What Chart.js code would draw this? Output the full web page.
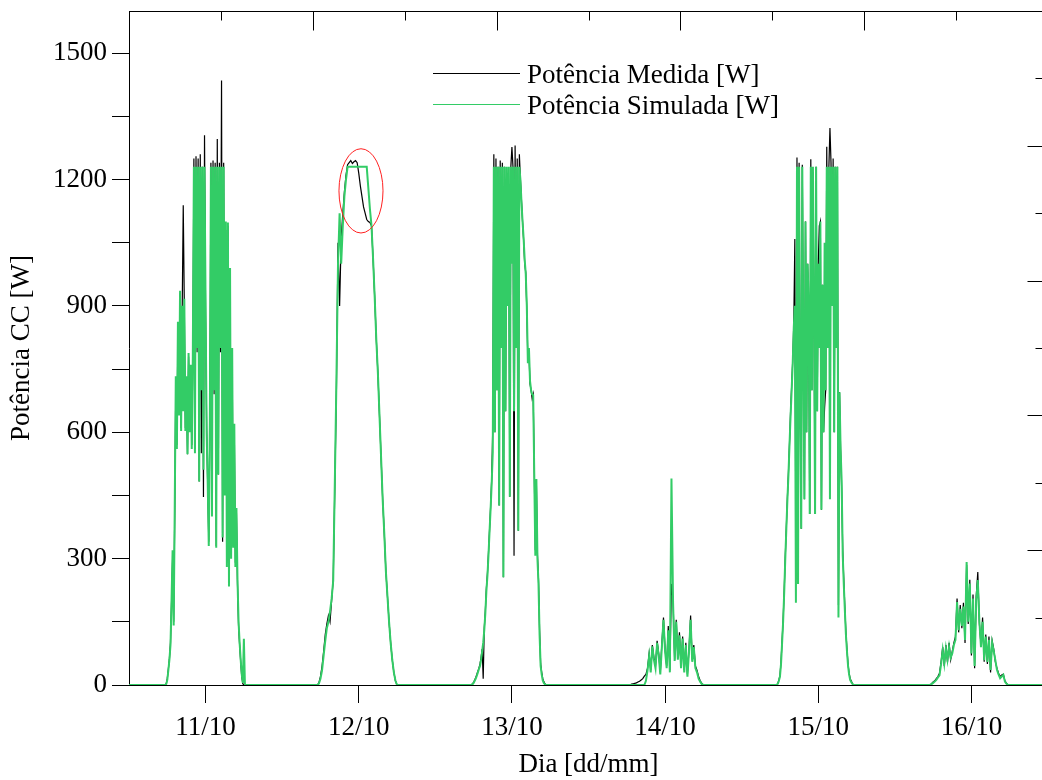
<!DOCTYPE html>
<html lang="pt-BR">
<head>
<meta charset="utf-8">
<title>Potência CC medida x simulada</title>
<script src="https://cdn.jsdelivr.net/npm/chart.js@4.4.1/dist/chart.umd.min.js"></script>
<style>
  html, body { margin: 0; padding: 0; background: #fff; overflow: hidden; }
  #box { position: relative; width: 1070px; height: 780px; }
</style>
</head>
<body>
<div id="box"><canvas id="grafico"></canvas></div>
<script>
// =============================================
//  Dados (tempo a partir de 11/10 00:00)
// =============================================

// minutos do dia de cada amostra: 10 min (dias nublados) e 15 min
const minutosDensos = [330, 340, 350, 360, 370, 380, 390, 400, 410, 420,
  430, 440, 450, 460, 470, 480, 490, 500, 510, 520,
  530, 540, 550, 560, 570, 580, 590, 600, 610, 620,
  630, 640, 650, 660, 670, 680, 690, 700, 710, 720,
  730, 740, 750, 760, 770, 780, 790, 800, 810, 820,
  830, 840, 850, 860, 870, 880, 890, 900, 910, 920,
  930, 940, 950, 960, 970, 980, 990, 1000, 1010, 1020,
  1030, 1040, 1050, 1060, 1070, 1080, 1090, 1100, 1110];
const minutosAmostra = [330, 345, 360, 375, 390, 405, 420, 435, 450, 465,
  480, 495, 510, 525, 540, 555, 570, 585, 600, 615,
  630, 645, 660, 675, 690, 705, 720, 735, 750, 765,
  780, 795, 810, 825, 840, 855, 870, 885, 900, 915,
  930, 945, 960, 975, 990, 1005, 1020, 1035, 1050, 1065,
  1080, 1095, 1110];

// Potência medida [W]
const medida11 = [0, 0, 3, 15, 38, 62, 100, 197, 300, 150,
  410, 720, 570, 850, 650, 930, 610, 890, 1139, 900,
  610, 720, 548, 780, 677, 750, 570, 770, 1250, 560,
  1255, 790, 1250, 483, 1260, 550, 1230, 446, 1305, 880,
  610, 470, 340, 610, 1240, 410, 1245, 690, 1240, 330,
  1296, 500, 1240, 790, 1435, 340, 1240, 460, 1080, 290,
  1090, 240, 980, 310, 790, 330, 610, 290, 410, 240,
  140, 95, 55, 20, 3, 0, 0, 0, 0];
const medida12 = [0, 5, 20, 45, 80, 120, 145, 165, 150, 200,
  250, 470, 700, 1050, 900, 1060, 1120, 1170, 1210, 1235,
  1240, 1245, 1238, 1242, 1245, 1240, 1215, 1185, 1160, 1135,
  1120, 1105, 1100, 1098, 1090, 1010, 920, 820, 740, 640,
  540, 440, 360, 270, 210, 150, 100, 60, 30, 10,
  0, 0, 0];
const medida13 = [0, 0, 3, 6, 12, 18, 25, 33, 40, 50,
  65, 85, 15, 135, 175, 230, 265, 315, 370, 425,
  490, 612, 1260, 600, 1250, 700, 1230, 426, 1245, 800,
  1240, 256, 1230, 650, 1170, 900, 1190, 447, 1230, 1277,
  1230, 307, 1281, 800, 1250, 366, 1260, 1200, 1150, 1100,
  1055, 1000, 980, 890, 770, 790, 715, 700, 680, 690,
  510, 320, 480, 310, 250, 130, 50, 30, 15, 8,
  3, 0, 0, 0, 0, 0, 0, 0, 0];
const medida14 = [0, 0, 0, 0, 0, 2, 3, 4, 5, 7,
  9, 12, 15, 21, 25, 40, 75, 35, 95, 65,
  45, 105, 75, 30, 100, 160, 85, 45, 140, 35,
  240, 200, 60, 155, 65, 125, 45, 115, 35, 100,
  25, 85, 165, 60, 95, 45, 35, 20, 10, 4,
  0, 0, 0];
const medida15 = [0, 4, 12, 22, 55, 105, 155, 225, 305, 375,
  445, 505, 575, 650, 710, 770, 860, 1059, 250, 1252,
  240, 1240, 700, 371, 1235, 800, 441, 1100, 600, 1000,
  900, 406, 1248, 700, 1195, 900, 406, 1230, 650, 1000,
  1090, 1100, 416, 950, 600, 660, 700, 1278, 800, 1230,
  1322, 1240, 900, 1250, 600, 1230, 800, 1230, 190, 695,
  560, 467, 320, 250, 185, 125, 85, 50, 28, 15,
  10, 4, 0, 0, 0, 0, 0, 0, 0];
const medida16 = [0, 3, 7, 10, 15, 20, 28, 55, 90, 45,
  95, 55, 100, 60, 80, 100, 115, 205, 125, 190,
  135, 195, 100, 285, 145, 250, 70, 215, 40, 210,
  268, 145, 95, 160, 55, 120, 50, 115, 30, 105,
  85, 55, 40, 28, 20, 24, 26, 10, 4, 0,
  0, 0, 0];

// Potência simulada [W]
const simulada11 = [0, 0, 2, 12, 35, 60, 95, 200, 320, 141,
  420, 733, 560, 862, 640, 936, 603, 900, 650, 917,
  603, 733, 548, 788, 600, 760, 560, 780, 1230, 550,
  1230, 800, 1230, 483, 1230, 700, 1230, 511, 1230, 900,
  600, 480, 330, 620, 1230, 400, 1230, 700, 1230, 326,
  1230, 500, 1230, 800, 1230, 350, 1230, 450, 1100, 280,
  1098, 234, 990, 300, 800, 326, 620, 280, 420, 250,
  150, 100, 60, 25, 5, 110, 0, 0, 0];
const simulada12 = [0, 3, 15, 35, 70, 105, 135, 150, 175, 205,
  248, 480, 722, 1000, 1120, 1000, 1090, 1160, 1200, 1230,
  1230, 1230, 1230, 1230, 1230, 1230, 1230, 1230, 1230, 1230,
  1230, 1230, 1180, 1130, 1090, 1010, 920, 820, 740, 640,
  540, 440, 360, 270, 210, 150, 100, 60, 30, 10,
  0, 0, 0];
const simulada13 = [0, 0, 2, 5, 10, 15, 22, 30, 38, 45,
  60, 80, 100, 130, 170, 223, 260, 310, 366, 420,
  480, 553, 1230, 600, 1230, 700, 1230, 426, 1230, 800,
  1230, 256, 1230, 650, 1230, 900, 1230, 447, 1230, 1000,
  1230, 650, 1230, 800, 1230, 366, 1230, 1200, 1145, 1100,
  1060, 1010, 976, 900, 764, 800, 722, 700, 690, 688,
  502, 307, 489, 300, 240, 120, 45, 25, 11, 5,
  2, 0, 0, 0, 0, 0, 0, 0, 0];
const simulada14 = [0, 0, 0, 0, 0, 0, 0, 0, 0, 0,
  0, 0, 0, 0, 10, 35, 69, 30, 92, 60,
  40, 100, 70, 25, 92, 155, 80, 40, 130, 30,
  490, 196, 57, 150, 60, 118, 40, 110, 30, 95,
  20, 80, 155, 55, 90, 40, 30, 15, 8, 2,
  0, 0, 0];
const simulada15 = [0, 3, 10, 20, 50, 100, 152, 220, 300, 371,
  440, 500, 572, 640, 700, 765, 850, 900, 195, 1230,
  240, 1230, 700, 371, 1230, 800, 441, 1100, 600, 1000,
  900, 406, 1230, 700, 1230, 900, 406, 1230, 650, 1000,
  800, 1100, 416, 950, 600, 1050, 700, 1230, 800, 1230,
  441, 1230, 900, 1230, 600, 1230, 800, 1230, 160, 695,
  560, 485, 310, 240, 178, 120, 80, 46, 25, 12,
  7, 3, 0, 0, 0, 0, 0, 0, 0];
const simulada16 = [0, 2, 5, 8, 12, 18, 23, 50, 83, 51,
  87, 60, 91, 65, 75, 95, 107, 197, 130, 181,
  140, 186, 107, 292, 150, 241, 75, 205, 45, 200,
  249, 150, 90, 150, 59, 115, 55, 107, 36, 100,
  80, 59, 36, 25, 16, 20, 24, 8, 3, 0,
  0, 0, 0];

// eixos
const diasTicks   = [12, 36, 60, 84, 108, 132];
const rotulosDias = ['11/10', '12/10', '13/10', '14/10', '15/10', '16/10'];
const ticksY      = [0, 150, 300, 450, 600, 750, 900, 1050, 1200, 1350, 1500];

// Junta os dias numa série contínua em horas (noite = 0)
function montarSerie(dias) {
  const pontos = [{ x: 0, y: 0 }];
  dias.forEach(([valores, minutos], d) => {
    valores.forEach((v, i) => pontos.push({ x: d * 24 + minutos[i] / 60, y: v }));
  });
  pontos.push({ x: 144, y: 0 });
  return pontos;
}

const serieMedida = montarSerie([
  [medida11, minutosDensos], [medida12, minutosAmostra], [medida13, minutosDensos],
  [medida14, minutosAmostra], [medida15, minutosDensos], [medida16, minutosAmostra]
]);
const serieSimulada = montarSerie([
  [simulada11, minutosDensos], [simulada12, minutosAmostra], [simulada13, minutosDensos],
  [simulada14, minutosAmostra], [simulada15, minutosDensos], [simulada16, minutosAmostra]
]);

const VERDE = '#33cc66';
const FONTE = 'Liberation Serif, Times New Roman, serif';

// =============================================
//  Moldura, ticks internos, legenda e elipse
// =============================================
const extras = {
  id: 'extras',
  afterDraw(chart) {
    const { ctx, chartArea: a, scales: { x, y } } = chart;
    const L = Math.round(a.left) + 0.5, R = Math.round(a.right) + 0.5;
    const T = Math.round(a.top) + 0.5,  B = Math.round(a.bottom) + 0.5;
    ctx.save();
    ctx.strokeStyle = '#000';
    ctx.lineWidth = 1;

    ctx.beginPath();
    ctx.moveTo(L, T); ctx.lineTo(R, T); ctx.lineTo(R, B);
    ctx.stroke();

    // ticks do eixo superior (para dentro)
    for (let i = 1; i < 10; i++) {
      const px = Math.round(a.left + (a.right - a.left) * i / 10) + 0.5;
      const len = i % 2 === 0 ? 19 : 9;
      ctx.beginPath(); ctx.moveTo(px, T); ctx.lineTo(px, T + len); ctx.stroke();
    }
    // ticks do eixo direito (para dentro)
    for (let i = 1; i < 10; i++) {
      const py = Math.round(a.bottom - (a.bottom - a.top) * i / 10) + 0.5;
      const len = i % 2 === 0 ? 21 : 13;
      ctx.beginPath(); ctx.moveTo(R - len, py); ctx.lineTo(R, py); ctx.stroke();
    }

    // elipse vermelha no pico de 12/10
    const cx = x.getPixelForValue(36.35), cy = y.getPixelForValue(1173);
    const rx = x.getPixelForValue(36.35 + 3.45) - cx;
    const ry = cy - y.getPixelForValue(1173 + 100);
    ctx.strokeStyle = '#ff2020';
    ctx.beginPath(); ctx.ellipse(cx, cy, rx, ry, 0, 0, Math.PI * 2); ctx.stroke();

    // legenda
    const itens = [
      { texto: chart.data.datasets[0].label, cor: '#000',  dy: 62 },
      { texto: chart.data.datasets[1].label, cor: VERDE,   dy: 93 }
    ];
    ctx.font = '27px ' + FONTE;
    ctx.textBaseline = 'middle';
    ctx.fillStyle = '#000';
    itens.forEach(it => {
      const ly = Math.round(a.top + it.dy) + 0.5;
      ctx.strokeStyle = it.cor;
      ctx.beginPath(); ctx.moveTo(a.left + 304, ly); ctx.lineTo(a.left + 391, ly); ctx.stroke();
      ctx.fillText(it.texto, a.left + 398, ly + 2);
    });
    ctx.restore();
  }
};

Chart.defaults.font.family = FONTE;
Chart.defaults.font.size = 27;
Chart.defaults.color = '#000';

new Chart(document.getElementById('grafico'), {
  type: 'line',
  data: {
    datasets: [
      {
        label: 'Potência Medida [W]',
        data: serieMedida,
        borderColor: '#000',
        borderWidth: 1.2,
        pointRadius: 0,
        tension: 0,
        order: 1
      },
      {
        label: 'Potência Simulada [W]',
        data: serieSimulada,
        borderColor: VERDE,
        borderWidth: 2,
        pointRadius: 0,
        tension: 0,
        order: 0
      }
    ]
  },
  options: {
    responsive: true,
    maintainAspectRatio: false,
    animation: false,
    layout: { padding: { top: 11, right: 22, left: 0, bottom: 0 } },
    plugins: {
      legend: { display: false },
      tooltip: { enabled: false }
    },
    scales: {
      x: {
        type: 'linear',
        min: 0,
        max: 144,
        afterBuildTicks: s => { s.ticks = diasTicks.map(v => ({ value: v })); },
        afterFit: s => { s.height = 95; s.paddingLeft = 0; s.paddingRight = 0; },
        ticks: {
          autoSkip: false,
          maxRotation: 0,
          padding: 9,
          callback: v => rotulosDias[diasTicks.indexOf(v)]
        },
        grid: { drawOnChartArea: false, tickLength: 18, color: '#000', tickColor: '#000' },
        border: { color: '#000', width: 1 },
        title: { display: true, text: 'Dia [dd/mm]', padding: { top: 0, bottom: 0 }, font: { size: 27, lineHeight: 1.1 } }
      },
      y: {
        min: 0,
        max: 1600,
        afterBuildTicks: s => { s.ticks = ticksY.map(v => ({ value: v })); },
        afterFit: s => { s.width = 129; s.paddingTop = 0; s.paddingBottom = 0; },
        ticks: {
          padding: 5,
          callback: v => (v % 300 === 0 ? v : '')
        },
        grid: { drawOnChartArea: false, tickLength: 17, color: '#000', tickColor: '#000' },
        border: { color: '#000', width: 1 },
        title: { display: true, text: 'Potência CC [W]', padding: { top: 6, bottom: 0 }, font: { size: 27 } }
      }
    }
  },
  plugins: [extras]
});
</script>
</body>
</html>
